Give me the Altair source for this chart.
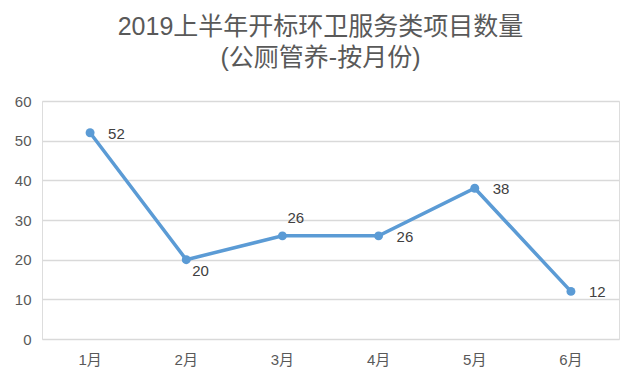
import altair as alt
import pandas as pd

months = ["1月", "2月", "3月", "4月", "5月", "6月"]
counts = [52, 20, 26, 26, 38, 12]
label_pos = ["right", "below", "above", "right", "right", "right"]

df = pd.DataFrame({"month": months, "count": counts, "pos": label_pos})

FONT = "Liberation Sans, Noto Sans CJK SC, sans-serif"
BLUE = "#5B9BD5"

x = alt.X("month:N", sort=months, title=None,
          scale=alt.Scale(type="band", paddingInner=0, paddingOuter=0),
          axis=alt.Axis(labelAngle=0, ticks=False, domain=False, grid=False,
                        labelPadding=13, labelFontSize=15, labelColor="#595959",
                        labelFont=FONT))
y = alt.Y("count:Q", title=None,
          scale=alt.Scale(domain=[0, 60], nice=False),
          axis=alt.Axis(values=[0, 10, 20, 30, 40, 50, 60], ticks=False, domain=False,
                        gridColor="#D9D9D9", gridWidth=1.5, labelPadding=11,
                        labelFontSize=15, labelColor="#595959", labelFont=FONT))

base = alt.Chart(df).encode(x=x, y=y)

line = base.mark_line(color=BLUE, strokeWidth=3.5)
pts = base.mark_point(color=BLUE, filled=True, size=80, opacity=1)

txt_style = dict(fontSize=15, color="#404040", font=FONT)
right = base.transform_filter(alt.datum.pos == "right").mark_text(
    align="left", baseline="middle", dx=18, dy=1, **txt_style).encode(text="count:Q")
below = base.transform_filter(alt.datum.pos == "below").mark_text(
    align="left", baseline="middle", dx=6, dy=11, **txt_style).encode(text="count:Q")
above = base.transform_filter(alt.datum.pos == "above").mark_text(
    align="left", baseline="middle", dx=5, dy=-18, **txt_style).encode(text="count:Q")

chart = alt.layer(line, pts, right, below, above).properties(
    width=577, height=238,
    padding={"left": 34, "top": 93, "right": 13, "bottom": 37},
    autosize=alt.AutoSizeParams(type="none"),
    title=alt.TitleParams(
        text=["2019上半年开标环卫服务类项目数量", "(公厕管养-按月份)"],
        font=FONT, fontSize=25, fontWeight="normal", color="#595959",
        anchor="middle", lineHeight=31, dx=-10, offset=23),
).configure_view(stroke=None).configure(background="white")

chart.save("out.html", embed_options={"renderer": "svg", "actions": False})
